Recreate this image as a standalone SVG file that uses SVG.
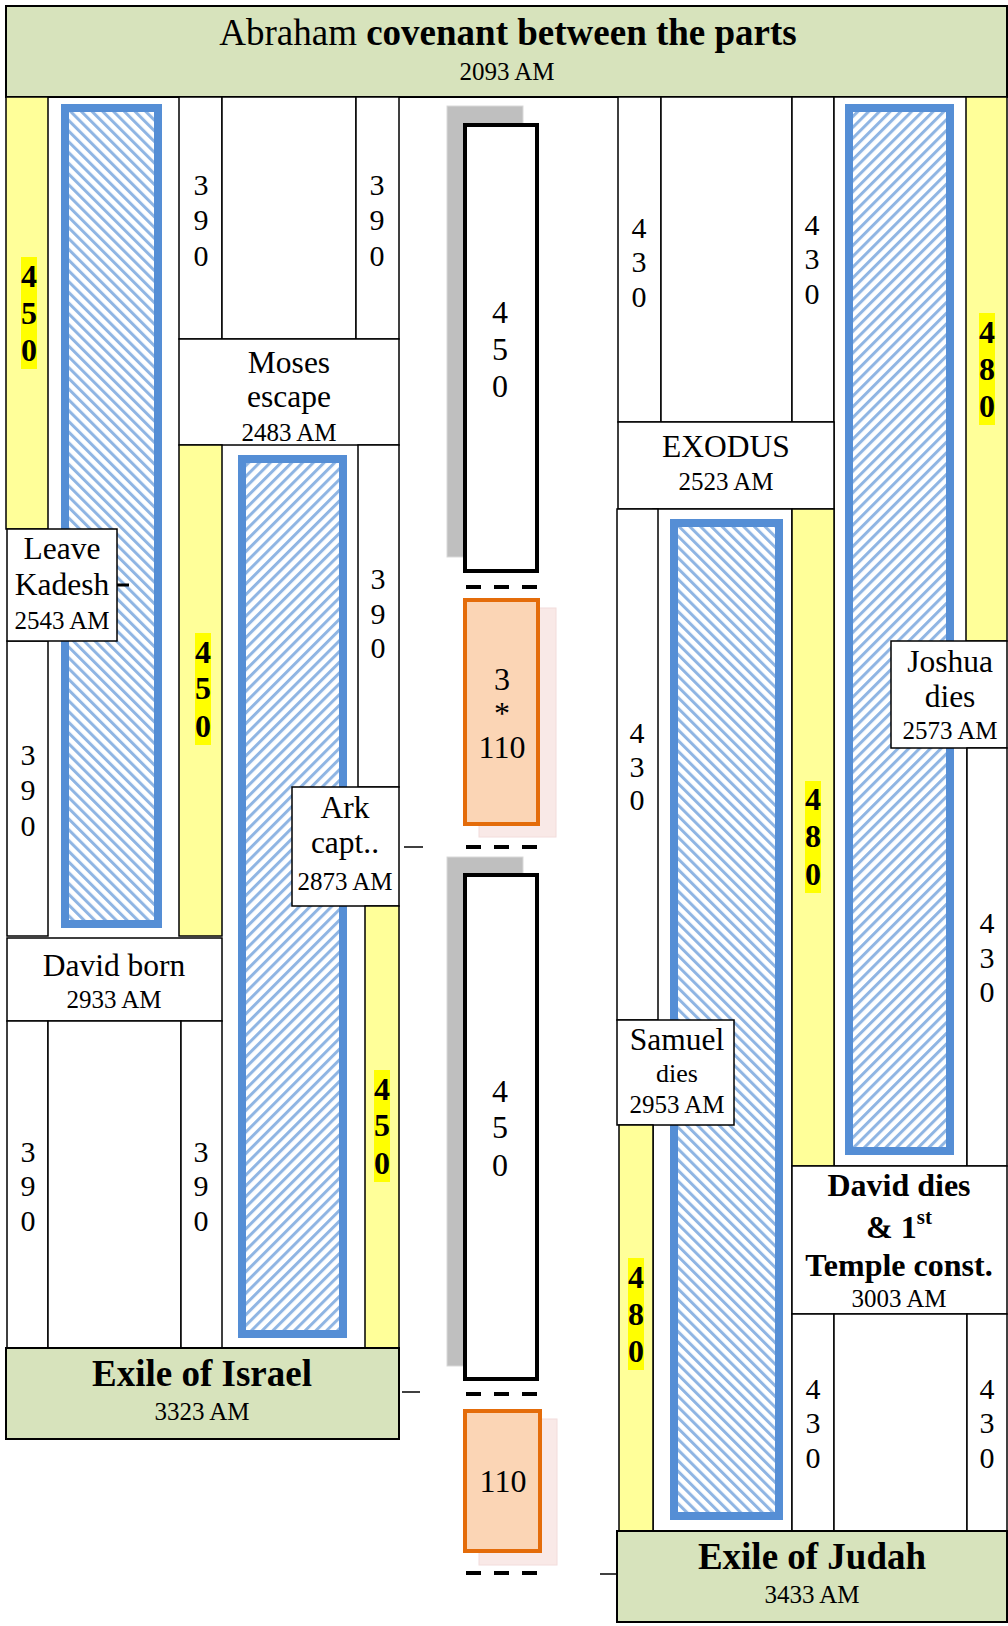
<svg xmlns="http://www.w3.org/2000/svg" width="1008" height="1626" viewBox="0 0 1008 1626">
<style>
.cell{fill:#fff;stroke:#000;stroke-width:1.5}
.yb{fill:#FFFF99;stroke:#000;stroke-width:1.5}
.hl{fill:#FFFF00}
.gr{fill:#D7E3BC;stroke:#000;stroke-width:2}
.hb{fill:url(#hatchBack);stroke:#558ED5;stroke-width:8}
.hf{fill:url(#hatchFwd);stroke:#558ED5;stroke-width:8}
.sh{fill:#BFBFBF;stroke:#D9D9D9;stroke-width:1}
.blk{fill:#fff;stroke:#000;stroke-width:4}
.osh{fill:#F9E9E7;stroke:#F2DCDB;stroke-width:1}
.or{fill:#FBD5B5;stroke:#E46C0A;stroke-width:4}
text{font-family:"Liberation Serif","Times New Roman",serif;fill:#000;text-anchor:middle}
.dg{font-size:30px}
.md{font-size:32px}
.bd{font-size:32px;font-weight:bold}
.lb{font-size:31.5px}
.dt{font-size:25px}
.big{font-size:37px;font-weight:bold}
.tick{stroke:#000;stroke-width:1.5}
.dash{stroke:#000;stroke-width:4;stroke-dasharray:15 13}
</style>
<defs>
<pattern id="hatchBack" width="7.6" height="7.6" patternUnits="userSpaceOnUse" patternTransform="rotate(-45)"><rect width="7.6" height="7.6" fill="#fff"/><rect width="3" height="7.6" fill="#8FB5E3"/></pattern>
<pattern id="hatchFwd" width="7.6" height="7.6" patternUnits="userSpaceOnUse" patternTransform="rotate(45)"><rect width="7.6" height="7.6" fill="#fff"/><rect width="3" height="7.6" fill="#8FB5E3"/></pattern>
</defs>

<g id="covenant">
<rect class="gr" x="6" y="6" width="1001" height="91"/>
<text x="508" y="45" style="font-size:37px"><tspan>Abraham </tspan><tspan font-weight="bold">covenant between the parts</tspan></text>
<text class="dt" x="507" y="80">2093 AM</text>
</g>

<!-- LEFT SIDE -->
<g id="left-450-a">
<rect class="yb" x="6" y="97" width="42" height="432"/>
<rect class="hl" x="21" y="257" width="16" height="112"/>
<text class="bd" x="29"><tspan x="29" y="287">4</tspan><tspan x="29" y="324">5</tspan><tspan x="29" y="361">0</tspan></text>
</g>
<g id="left-390-a">
<rect class="cell" x="7" y="641" width="41" height="295"/>
<text class="dg"><tspan x="28" y="765">3</tspan><tspan x="28" y="800">9</tspan><tspan x="28" y="836">0</tspan></text>
</g>
<g id="left-hatch-a"><rect class="hb" x="65" y="108" width="93" height="816"/></g>
<g id="left-390-top">
<rect class="cell" x="179" y="97" width="43" height="242"/>
<rect class="cell" x="222" y="97" width="134" height="242"/>
<rect class="cell" x="356" y="97" width="43" height="242"/>
<text class="dg"><tspan x="201" y="195">3</tspan><tspan x="201" y="230">9</tspan><tspan x="201" y="266">0</tspan></text>
<text class="dg"><tspan x="377" y="195">3</tspan><tspan x="377" y="230">9</tspan><tspan x="377" y="266">0</tspan></text>
</g>
<g id="moses">
<rect class="cell" x="179" y="339" width="220" height="106"/>
<text class="lb" x="289" y="373">Moses</text>
<text class="lb" x="289" y="407">escape</text>
<text class="dt" x="289" y="441">2483 AM</text>
</g>
<g id="left-450-b">
<rect class="yb" x="179" y="445" width="43" height="491"/>
<rect class="hl" x="195" y="633" width="16" height="112"/>
<text class="bd"><tspan x="203" y="663">4</tspan><tspan x="203" y="699">5</tspan><tspan x="203" y="737">0</tspan></text>
</g>
<g id="left-hatch-b"><rect class="hf" x="242" y="459" width="101" height="875"/></g>
<g id="left-390-b">
<rect class="cell" x="358" y="445" width="41" height="342"/>
<text class="dg"><tspan x="378" y="589">3</tspan><tspan x="378" y="624">9</tspan><tspan x="378" y="658">0</tspan></text>
</g>
<g id="ark">
<rect class="cell" x="292" y="787" width="107" height="119"/>
<text class="lb" x="345" y="818">Ark</text>
<text class="lb" x="345" y="853">capt..</text>
<text class="dt" x="345" y="890">2873 AM</text>
</g>
<g id="left-450-c">
<rect class="yb" x="365" y="906" width="34" height="442"/>
<rect class="hl" x="374" y="1070" width="16" height="112"/>
<text class="bd"><tspan x="382" y="1100">4</tspan><tspan x="382" y="1136">5</tspan><tspan x="382" y="1174">0</tspan></text>
</g>
<g id="david-born">
<rect class="cell" x="7" y="938" width="215" height="83"/>
<text class="lb" x="114" y="976">David born</text>
<text class="dt" x="114" y="1008">2933 AM</text>
</g>
<g id="left-390-bottom">
<rect class="cell" x="7" y="1021" width="41" height="327"/>
<rect class="cell" x="48" y="1021" width="133" height="327"/>
<rect class="cell" x="181" y="1021" width="41" height="327"/>
<text class="dg"><tspan x="28" y="1162">3</tspan><tspan x="28" y="1196">9</tspan><tspan x="28" y="1231">0</tspan></text>
<text class="dg"><tspan x="201" y="1162">3</tspan><tspan x="201" y="1196">9</tspan><tspan x="201" y="1231">0</tspan></text>
</g>
<g id="exile-israel">
<rect class="gr" x="6" y="1348" width="393" height="91"/>
<text class="big" x="202" y="1386">Exile of Israel</text>
<text class="dt" x="202" y="1420">3323 AM</text>
</g>
<g id="leave-kadesh">
<rect class="cell" x="7" y="529" width="110" height="112"/>
<text class="lb" x="62" y="559">Leave</text>
<text class="lb" x="62" y="595">Kadesh</text>
<text class="dt" x="62" y="629">2543 AM</text>
</g>

<!-- MIDDLE -->
<g id="mid-450-a">
<rect class="sh" x="447" y="106" width="76" height="451"/>
<rect class="blk" x="465" y="125" width="72" height="446"/>
<text class="md"><tspan x="500" y="323">4</tspan><tspan x="500" y="360">5</tspan><tspan x="500" y="397">0</tspan></text>
</g>
<g id="mid-330">
<rect class="osh" x="479" y="608" width="77" height="229"/>
<rect class="or" x="465" y="600" width="73" height="224"/>
<text class="md"><tspan x="502" y="690">3</tspan><tspan x="502" y="724">*</tspan><tspan x="502" y="758">110</tspan></text>
</g>
<g id="mid-450-b">
<rect class="sh" x="447" y="857" width="76" height="509"/>
<rect class="blk" x="465" y="875" width="72" height="504"/>
<text class="md"><tspan x="500" y="1102">4</tspan><tspan x="500" y="1138">5</tspan><tspan x="500" y="1176">0</tspan></text>
</g>
<g id="mid-110">
<rect class="osh" x="479" y="1419" width="78" height="146"/>
<rect class="or" x="465" y="1411" width="75" height="140"/>
<text class="md" x="503" y="1492">110</text>
</g>

<!-- RIGHT SIDE -->
<g id="right-430-top">
<rect class="cell" x="618" y="97" width="43" height="325"/>
<rect class="cell" x="661" y="97" width="131" height="325"/>
<rect class="cell" x="792" y="97" width="42" height="325"/>
<text class="dg"><tspan x="639" y="238">4</tspan><tspan x="639" y="272">3</tspan><tspan x="639" y="307">0</tspan></text>
<text class="dg"><tspan x="812" y="235">4</tspan><tspan x="812" y="269">3</tspan><tspan x="812" y="304">0</tspan></text>
</g>
<g id="right-hatch-a">
<rect class="cell" x="834" y="97" width="133" height="1069"/>
<rect class="hf" x="849" y="108" width="101" height="1043"/>
</g>
<g id="right-480-a">
<rect class="yb" x="966" y="97" width="41" height="544"/>
<rect class="hl" x="979" y="313" width="16" height="112"/>
<text class="bd"><tspan x="987" y="343">4</tspan><tspan x="987" y="380">8</tspan><tspan x="987" y="417">0</tspan></text>
</g>
<g id="joshua">
<rect class="cell" x="891" y="641" width="116" height="107"/>
<text class="lb" x="950" y="672">Joshua</text>
<text class="lb" x="950" y="707">dies</text>
<text class="dt" x="950" y="739">2573 AM</text>
</g>
<g id="right-430-b">
<rect class="cell" x="967" y="748" width="40" height="418"/>
<text class="dg"><tspan x="987" y="933">4</tspan><tspan x="987" y="968">3</tspan><tspan x="987" y="1002">0</tspan></text>
</g>
<g id="exodus">
<rect class="cell" x="618" y="422" width="216" height="87"/>
<text class="lb" x="726" y="457">EXODUS</text>
<text class="dt" x="726" y="490">2523 AM</text>
</g>
<g id="right-hatch-b">
<rect class="cell" x="653" y="509" width="139" height="1022"/>
<rect class="hb" x="674" y="523" width="105" height="993"/>
</g>
<g id="right-430-c">
<rect class="cell" x="617" y="509" width="41" height="511"/>
<text class="dg"><tspan x="637" y="743">4</tspan><tspan x="637" y="777">3</tspan><tspan x="637" y="810">0</tspan></text>
</g>
<g id="right-480-b">
<rect class="yb" x="792" y="509" width="42" height="657"/>
<rect class="hl" x="805" y="781" width="16" height="112"/>
<text class="bd"><tspan x="813" y="810">4</tspan><tspan x="813" y="847">8</tspan><tspan x="813" y="885">0</tspan></text>
</g>
<g id="samuel">
<rect class="cell" x="617" y="1020" width="117" height="105"/>
<text class="lb" x="677" y="1050">Samuel</text>
<text x="677" y="1082" style="font-size:26px">dies</text>
<text class="dt" x="677" y="1113">2953 AM</text>
</g>
<g id="right-480-c">
<rect class="yb" x="619" y="1125" width="34" height="406"/>
<rect class="hl" x="628" y="1258" width="16" height="112"/>
<text class="bd"><tspan x="636" y="1288">4</tspan><tspan x="636" y="1325">8</tspan><tspan x="636" y="1362">0</tspan></text>
</g>
<g id="david-dies">
<rect class="cell" x="792" y="1166" width="215" height="148"/>
<text class="bd" x="899" y="1196">David dies</text>
<text class="bd" x="899" y="1238">&amp; 1<tspan dy="-14" style="font-size:21px">st</tspan></text>
<text class="bd" x="899" y="1276">Temple const.</text>
<text class="dt" x="899" y="1307">3003 AM</text>
</g>
<g id="right-430-bottom">
<rect class="cell" x="792" y="1314" width="42" height="217"/>
<rect class="cell" x="834" y="1314" width="133" height="217"/>
<rect class="cell" x="967" y="1314" width="40" height="217"/>
<text class="dg"><tspan x="813" y="1399">4</tspan><tspan x="813" y="1433">3</tspan><tspan x="813" y="1468">0</tspan></text>
<text class="dg"><tspan x="987" y="1399">4</tspan><tspan x="987" y="1433">3</tspan><tspan x="987" y="1468">0</tspan></text>
</g>
<g id="exile-judah">
<rect class="gr" x="617" y="1531" width="390" height="91"/>
<text class="big" x="812" y="1569">Exile of Judah</text>
<text class="dt" x="812" y="1603">3433 AM</text>
</g>

<g id="connectors">
<line x1="117" y1="585" x2="129" y2="585" stroke="#000" stroke-width="3"/>
<line class="tick" x1="404" y1="847" x2="423" y2="847"/>
<line class="tick" x1="402" y1="1392" x2="420" y2="1392"/>
<line class="tick" x1="600" y1="1574" x2="617" y2="1574"/>
<line class="dash" x1="466" y1="587" x2="537" y2="587"/>
<line class="dash" x1="466" y1="847" x2="537" y2="847"/>
<line class="dash" x1="466" y1="1394" x2="537" y2="1394"/>
<line class="dash" x1="466" y1="1573" x2="537" y2="1573"/>
</g>
</svg>
